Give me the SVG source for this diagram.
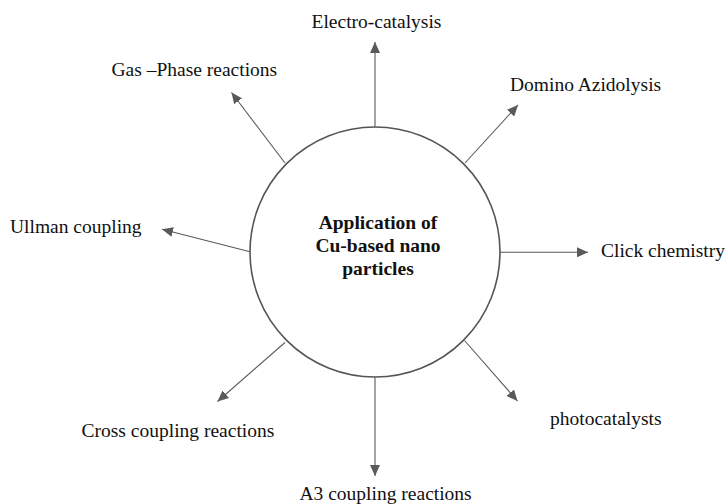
<svg xmlns="http://www.w3.org/2000/svg" width="727" height="504" viewBox="0 0 727 504">
<style>
.lbl{font-family:"Liberation Serif","Times New Roman",serif;font-size:19.5px;fill:#111}
.ctr{font-family:"Liberation Serif","Times New Roman",serif;font-size:19.5px;font-weight:bold;fill:#111;text-anchor:middle}
.conn line{stroke:#5a5a5a;stroke-width:1.1}
</style>
<defs>
<marker id="ah" markerUnits="userSpaceOnUse" markerWidth="12" markerHeight="10" refX="11" refY="5" orient="auto">
<path d="M0,0 L11,5 L0,10 Z" fill="#5a5a5a"/>
</marker>
</defs>
<rect width="727" height="504" fill="#fff"/>
<g id="center">
<circle cx="375" cy="252" r="125" fill="#fff" stroke="#555" stroke-width="1.6"/>
<text class="ctr" x="378" y="228.5">Application of</text>
<text class="ctr" x="378" y="251.5">Cu-based nano</text>
<text class="ctr" x="378" y="274.5">particles</text>
</g>
<g class="conn" id="connectors">
<line x1="375" y1="127" x2="375" y2="42" marker-end="url(#ah)"/>
<line x1="285" y1="163" x2="231.5" y2="92.5" marker-end="url(#ah)"/>
<line x1="465" y1="163" x2="518" y2="105" marker-end="url(#ah)"/>
<line x1="250" y1="251.7" x2="162" y2="229.3" marker-end="url(#ah)"/>
<line x1="500" y1="252.3" x2="588" y2="252.3" marker-end="url(#ah)"/>
<line x1="285" y1="342.5" x2="217.5" y2="401.5" marker-end="url(#ah)"/>
<line x1="375" y1="377" x2="375" y2="476" marker-end="url(#ah)"/>
<line x1="464.5" y1="340.5" x2="517.5" y2="401" marker-end="url(#ah)"/>
</g>
<g id="n-electro"><text class="lbl" x="311.5" y="28">Electro-catalysis</text></g>
<g id="n-gas"><text class="lbl" x="111.5" y="76">Gas –Phase reactions</text></g>
<g id="n-domino"><text class="lbl" x="510" y="90.5">Domino Azidolysis</text></g>
<g id="n-ullman"><text class="lbl" x="10" y="233.3">Ullman coupling</text></g>
<g id="n-click"><text class="lbl" x="601" y="256.7">Click chemistry</text></g>
<g id="n-cross"><text class="lbl" x="81.5" y="436.5">Cross coupling reactions</text></g>
<g id="n-photo"><text class="lbl" x="550" y="425">photocatalysts</text></g>
<g id="n-a3"><text class="lbl" x="299.5" y="499.5">A3 coupling reactions</text></g>
</svg>
